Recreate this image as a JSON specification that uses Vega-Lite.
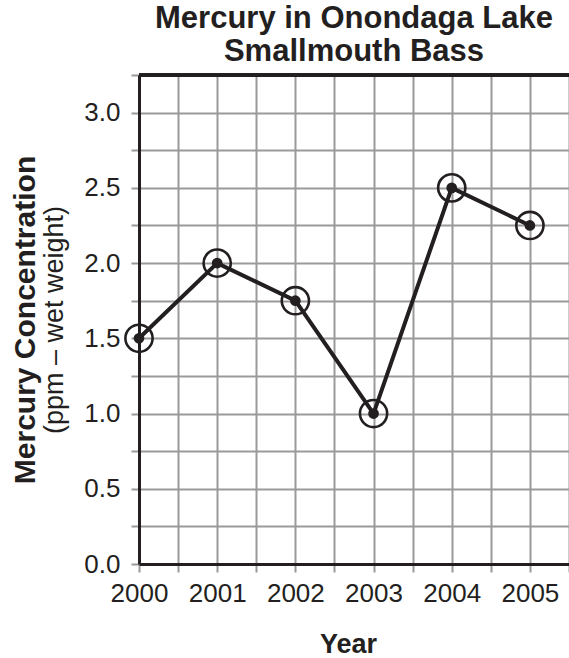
{
  "$schema": "https://vega.github.io/schema/vega-lite/v6.json",
  "width": 430,
  "height": 489,
  "autosize": {"type": "none"},
  "padding": {"left": 139, "top": 75, "right": 0, "bottom": 94},
  "background": "white",
  "config": {
    "font": "Liberation Sans",
    "view": {"stroke": null}
  },
  "title": {
    "text": ["Mercury in Onondaga Lake", "Smallmouth Bass"],
    "fontSize": 31,
    "fontWeight": "bold",
    "color": "#231f20",
    "lineHeight": 33,
    "anchor": "middle",
    "offset": -6
  },
  "data": {
    "values": [
      {"year": 2000, "mercury": 1.5},
      {"year": 2001, "mercury": 2.0},
      {"year": 2002, "mercury": 1.75},
      {"year": 2003, "mercury": 1.0},
      {"year": 2004, "mercury": 2.5},
      {"year": 2005, "mercury": 2.25}
    ]
  },
  "encoding": {
    "x": {
      "field": "year",
      "type": "quantitative",
      "scale": {"domain": [2000, 2005.5], "nice": false, "zero": false},
      "axis": {
        "title": "Year",
        "titleFontSize": 27,
        "titleFontWeight": "bold",
        "titleColor": "#231f20",
        "titlePadding": 25,
        "titleX": 209,
        "values": [2000, 2000.5, 2001, 2001.5, 2002, 2002.5, 2003, 2003.5, 2004, 2004.5, 2005, 2005.5],
        "labelExpr": "datum.value % 1 == 0 ? format(datum.value, 'd') : ''",
        "labelFontSize": 26,
        "labelColor": "#231f20",
        "labelPadding": 8,
        "labelFlush": false,
        "labelOverlap": false,
        "tickSize": 8,
        "tickColor": "#999999",
        "tickWidth": 2,
        "grid": true,
        "gridColor": "#9a9a9a",
        "gridWidth": 2,
        "domainColor": "#231f20",
        "domainWidth": 3,
        "zindex": 0
      }
    }
  },
  "layer": [
    {
      "mark": {"type": "line", "color": "#231f20", "strokeWidth": 4},
      "encoding": {
        "y": {
          "field": "mercury",
          "type": "quantitative",
          "scale": {"domain": [0, 3.25], "nice": false},
          "axis": {
            "title": "(ppm – wet weight)",
            "titleFontSize": 27,
            "titleFontWeight": "normal",
            "titleColor": "#231f20",
            "titleBaseline": "alphabetic",
            "titleX": -77,
            "values": [0, 0.25, 0.5, 0.75, 1, 1.25, 1.5, 1.75, 2, 2.25, 2.5, 2.75, 3, 3.25],
            "labelExpr": "(datum.value * 2) % 1 == 0 ? format(datum.value, '.1f') : ''",
            "labelFontSize": 26,
            "labelColor": "#231f20",
            "labelPadding": 11,
            "labelFlush": false,
            "labelOverlap": false,
            "tickSize": 8,
            "tickColor": "#999999",
            "tickWidth": 2,
            "grid": true,
            "gridColor": "#9a9a9a",
            "gridWidth": 2,
            "domainColor": "#231f20",
            "domainWidth": 3,
            "zindex": 0
          }
        }
      }
    },
    {
      "mark": {"type": "point", "shape": "circle", "filled": false, "color": "#231f20", "strokeWidth": 2.6, "size": 740, "opacity": 1},
      "encoding": {
        "y": {
          "field": "mercury",
          "type": "quantitative",
          "axis": {
            "orient": "left",
            "title": "Mercury Concentration",
            "titleFontSize": 30,
            "titleFontWeight": "bold",
            "titleColor": "#231f20",
            "titleBaseline": "alphabetic",
            "titleX": -105,
            "labels": false,
            "ticks": false,
            "domain": false,
            "grid": false
          }
        }
      }
    },
    {
      "mark": {"type": "circle", "color": "#231f20", "size": 115, "opacity": 1},
      "encoding": {
        "y": {"field": "mercury", "type": "quantitative", "axis": null}
      }
    },
    {
      "mark": {"type": "rule", "color": "#231f20", "strokeWidth": 3},
      "encoding": {
        "y": {"datum": 3.25, "type": "quantitative", "axis": null},
        "x": {"value": 0},
        "x2": {"value": 430}
      }
    }
  ],
  "resolve": {"axis": {"y": "independent"}}
}
